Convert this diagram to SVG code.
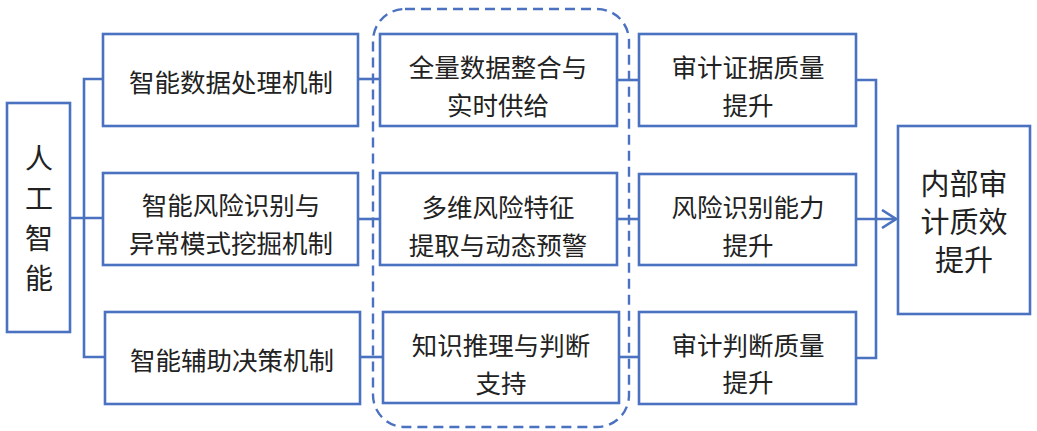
<svg xmlns="http://www.w3.org/2000/svg" width="1037" height="431" viewBox="0 0 1037 431">
<defs>
<style>
.box{fill:#fff;stroke:#4a72c0;stroke-width:2.6}
.ln{fill:none;stroke:#4a72c0;stroke-width:2.6}
.dash{fill:none;stroke:#4a72c0;stroke-width:2.4;stroke-dasharray:10 6}
text{font-family:"Noto Sans CJK SC","Noto Sans",sans-serif;fill:#222;text-anchor:middle;dominant-baseline:central}
.t{font-size:25.5px}
.big{font-size:28px}
.big2{font-size:29px}
</style>
<marker id="arr" viewBox="0 0 16 20" refX="15" refY="10" markerWidth="16" markerHeight="20" markerUnits="userSpaceOnUse" orient="auto">
<path d="M1,1 L15,10 L1,19" fill="none" stroke="#4a72c0" stroke-width="2.6"/>
</marker>
</defs>
<rect width="1037" height="431" fill="#fff"/>
<g id="connectors">
<path class="ln" d="M70,218 H103"/>
<path class="ln" d="M103,79 H84 V357 H104"/>
<path class="ln" d="M358,79 H380"/>
<path class="ln" d="M358,219 H380"/>
<path class="ln" d="M360,357 H383"/>
<path class="ln" d="M617,80 H639"/>
<path class="ln" d="M617,219 H639"/>
<path class="ln" d="M619,357 H639"/>
<path class="ln" d="M856,80 H876 V358 H856"/>
<path class="ln" d="M856,219 H896" marker-end="url(#arr)"/>
</g>
<rect id="group-box" class="dash" x="373" y="9" width="256" height="418" rx="32" ry="32"/>
<g id="ai">
<rect class="box" x="7" y="103" width="63" height="229"/>
<text class="big" x="39" y="157">人</text>
<text class="big" x="39" y="197">工</text>
<text class="big" x="39" y="237">智</text>
<text class="big" x="39" y="277">能</text>
</g>
<g id="m1">
<rect class="box" x="103" y="34" width="255" height="92"/>
<text class="t" x="231" y="80">智能数据处理机制</text>
</g>
<g id="m2">
<rect class="box" x="103" y="173" width="255" height="92"/>
<text class="t" x="231" y="203">智能风险识别与</text>
<text class="t" x="231" y="241">异常模式挖掘机制</text>
</g>
<g id="m3">
<rect class="box" x="105" y="312" width="255" height="92"/>
<text class="t" x="232" y="358">智能辅助决策机制</text>
</g>
<g id="p1">
<rect class="box" x="380" y="34" width="237" height="92"/>
<text class="t" x="498" y="65">全量数据整合与</text>
<text class="t" x="498" y="103">实时供给</text>
</g>
<g id="p2">
<rect class="box" x="380" y="173" width="237" height="92"/>
<text class="t" x="498" y="205">多维风险特征</text>
<text class="t" x="498" y="243">提取与动态预警</text>
</g>
<g id="p3">
<rect class="box" x="383" y="312" width="236" height="91"/>
<text class="t" x="501" y="343">知识推理与判断</text>
<text class="t" x="501" y="381">支持</text>
</g>
<g id="r1">
<rect class="box" x="639" y="34" width="217" height="92"/>
<text class="t" x="748" y="65">审计证据质量</text>
<text class="t" x="748" y="103">提升</text>
</g>
<g id="r2">
<rect class="box" x="639" y="174" width="217" height="91"/>
<text class="t" x="748" y="205">风险识别能力</text>
<text class="t" x="748" y="243">提升</text>
</g>
<g id="r3">
<rect class="box" x="639" y="312" width="217" height="92"/>
<text class="t" x="748" y="343">审计判断质量</text>
<text class="t" x="748" y="380">提升</text>
</g>
<g id="final">
<rect class="box" x="898" y="126" width="132" height="188"/>
<text class="big2" x="964" y="182">内部审</text>
<text class="big2" x="964" y="220">计质效</text>
<text class="big2" x="964" y="258">提升</text>
</g>
</svg>
